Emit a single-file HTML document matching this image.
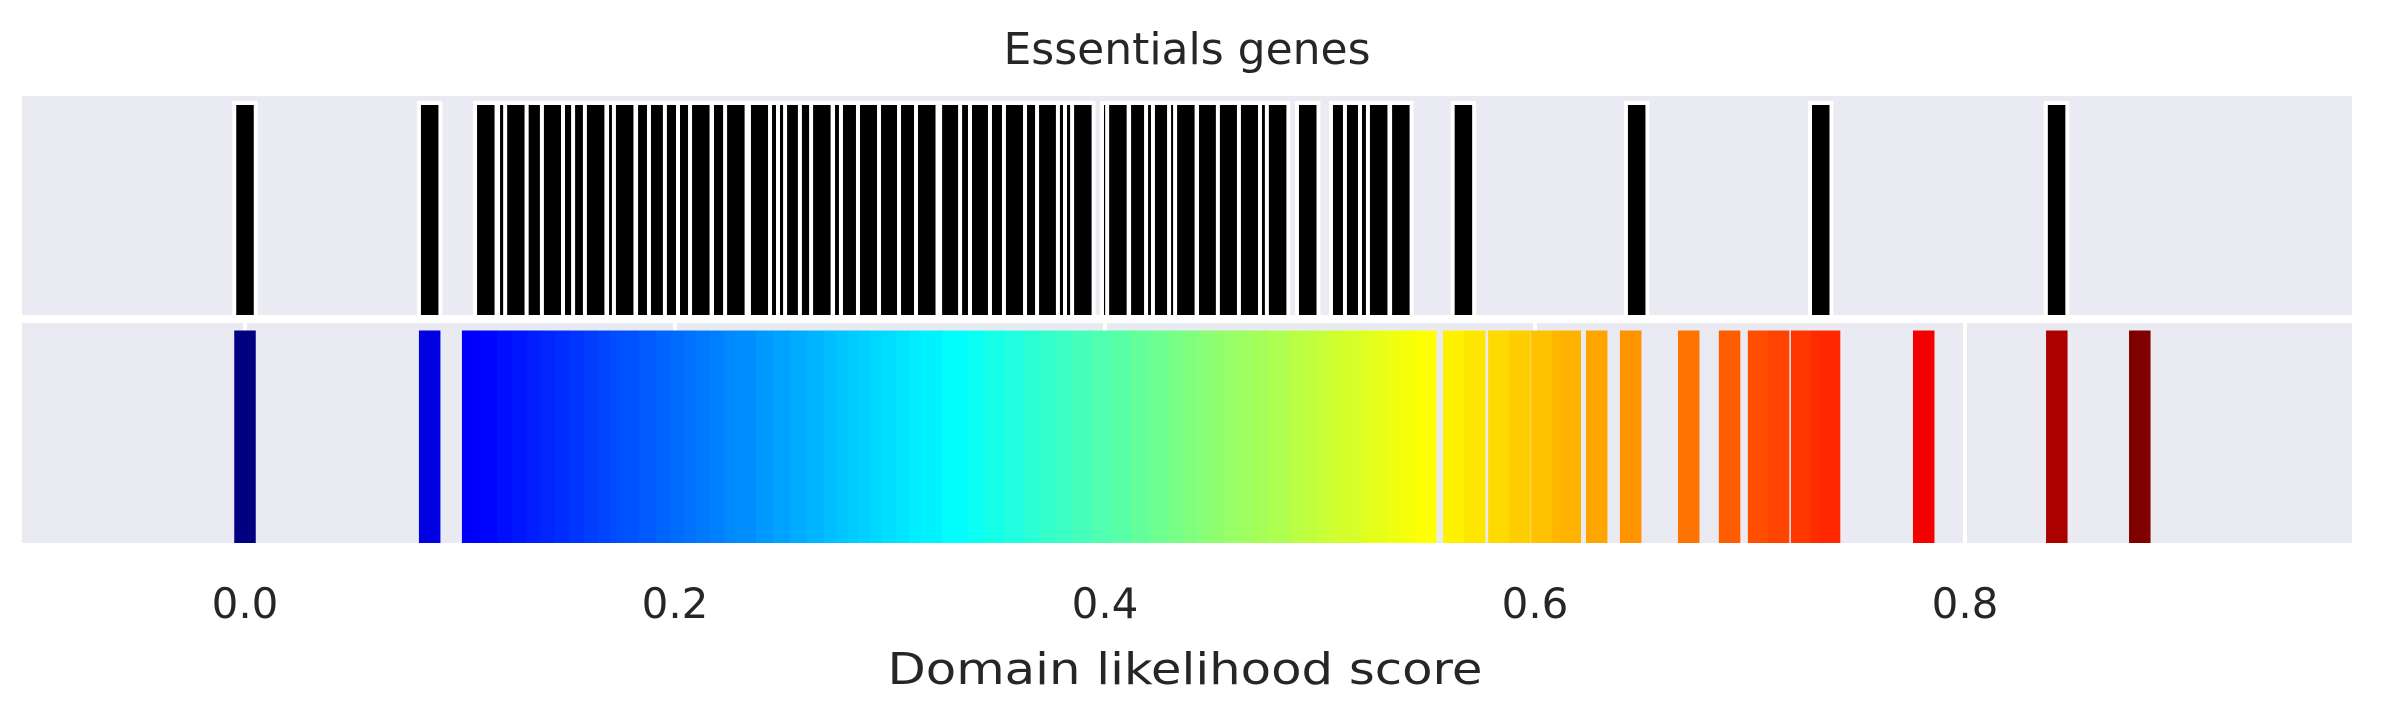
<!DOCTYPE html>
<html><head><meta charset="utf-8"><style>
html,body{margin:0;padding:0;background:#fff;}
svg{display:block;font-family:"DejaVu Sans","Liberation Sans",sans-serif;}
</style></head><body>
<svg id="chart" width="2385" height="725" viewBox="0 0 2385 725" xmlns="http://www.w3.org/2000/svg">
<defs>
<clipPath id="clipTop"><rect x="22" y="96" width="2330" height="219"/></clipPath>
<clipPath id="clipBot"><rect x="22" y="323" width="2330" height="220"/></clipPath>
</defs>
<rect x="22" y="96" width="2330" height="219" fill="#eaeaf2"/>
<rect x="22" y="323" width="2330" height="220" fill="#eaeaf2"/>
<g id="gridBot" clip-path="url(#clipBot)"></g>
<g id="barsTop" clip-path="url(#clipTop)"></g>
<g id="barsBot" clip-path="url(#clipBot)"></g>
<g id="ticks"></g>
<text x="1187" y="64" text-anchor="middle" font-size="44" fill="#262626">Essentials genes</text>
<text x="1185" y="684" text-anchor="middle" font-size="44" fill="#262626" textLength="595" lengthAdjust="spacingAndGlyphs">Domain likelihood score</text>
</svg>
<script>
const topValues = [0.0, 0.0859, 0.1120, 0.1227, 0.1260, 0.1360, 0.1431, 0.1529, 0.1576, 0.1631, 0.1734, 0.1766, 0.1869, 0.1929, 0.2003, 0.2064, 0.2120, 0.2222, 0.2283, 0.2394, 0.2492, 0.2529, 0.2562, 0.2631, 0.2683, 0.2785, 0.2822, 0.2901, 0.2999, 0.3092, 0.3171, 0.3283, 0.3376, 0.3422, 0.3515, 0.3580, 0.3678, 0.3734, 0.3831, 0.3864, 0.3897, 0.4036, 0.4060, 0.4162, 0.4241, 0.4273, 0.4348, 0.4376, 0.4478, 0.4575, 0.4673, 0.4771, 0.4803, 0.4943, 0.5101, 0.5166, 0.5236, 0.5273, 0.5376, 0.5667, 0.6473, 0.7329, 0.8426];
const bottomValues = [0.0, 0.0859, 0.1059, 0.1140, 0.1222, 0.1292, 0.1362, 0.1422, 0.1492, 0.1560, 0.1627, 0.1690, 0.1748, 0.1776, 0.1804, 0.1880, 0.1962, 0.2032, 0.2090, 0.2148, 0.2210, 0.2278, 0.2329, 0.2427, 0.2505, 0.2585, 0.2665, 0.2743, 0.2800, 0.2855, 0.2901, 0.2955, 0.3008, 0.3075, 0.3139, 0.3194, 0.3292, 0.3324, 0.3410, 0.3492, 0.3580, 0.3678, 0.3750, 0.3822, 0.3900, 0.3994, 0.4078, 0.4170, 0.4259, 0.4348, 0.4415, 0.4483, 0.4543, 0.4600, 0.4659, 0.4735, 0.4813, 0.4910, 0.4975, 0.5040, 0.5090, 0.5143, 0.5231, 0.5287, 0.5357, 0.5427, 0.5492, 0.5622, 0.5720, 0.5832, 0.5930, 0.6032, 0.6129, 0.6164, 0.6287, 0.6445, 0.6715, 0.6905, 0.7040, 0.7133, 0.7240, 0.7333, 0.7370, 0.7808, 0.8427, 0.8813];
const tickValues = [0.0, 0.2, 0.4, 0.6, 0.8];
const tickLabels = ["0.0", "0.2", "0.4", "0.6", "0.8"];

const NS = "http://www.w3.org/2000/svg";
const X0 = 245, PXU = 2150, BAR_W = 0.01;
function xs(v){ return X0 + v * PXU; }
function jet(t){
  t = Math.max(0, Math.min(1, t));
  function c(x){ return Math.max(0, Math.min(1, x)); }
  const r = c(Math.min(4*t - 1.5, -4*t + 4.5));
  const g = c(Math.min(4*t - 0.5, -4*t + 3.5));
  const b = c(Math.min(4*t + 0.5, -4*t + 2.5));
  return "rgb(" + Math.round(r*255) + "," + Math.round(g*255) + "," + Math.round(b*255) + ")";
}
const gridBot = document.getElementById("gridBot");
const barsTop = document.getElementById("barsTop");
const barsBot = document.getElementById("barsBot");
const ticks = document.getElementById("ticks");

tickValues.forEach(function(v, i){
  const l = document.createElementNS(NS, "line");
  l.setAttribute("x1", xs(v)); l.setAttribute("x2", xs(v));
  l.setAttribute("y1", 323); l.setAttribute("y2", 543);
  l.setAttribute("stroke", "#ffffff"); l.setAttribute("stroke-width", 4);
  
  
  gridBot.appendChild(l);
  const t = document.createElementNS(NS, "text");
  t.setAttribute("x", xs(v)); t.setAttribute("y", 618);
  t.setAttribute("text-anchor", "middle"); t.setAttribute("font-size", "42");
  t.setAttribute("fill", "#262626");
  t.textContent = tickLabels[i];
  
  
  ticks.appendChild(t);
});

topValues.forEach(function(v){
  const r = document.createElementNS(NS, "rect");
  const w = BAR_W * PXU;
  r.setAttribute("x", xs(v) - w/2); r.setAttribute("y", 103);
  r.setAttribute("width", w); r.setAttribute("height", 220);
  r.setAttribute("fill", "#000000"); r.setAttribute("stroke", "#ffffff");
  r.setAttribute("stroke-width", 4);
  
  
  barsTop.appendChild(r);
});

const vmin = Math.min.apply(null, bottomValues), vmax = Math.max.apply(null, bottomValues);
bottomValues.forEach(function(v){
  const r = document.createElementNS(NS, "rect");
  const w = BAR_W * PXU;
  r.setAttribute("x", xs(v) - w/2); r.setAttribute("y", 330.5);
  r.setAttribute("width", w); r.setAttribute("height", 215);
  r.setAttribute("fill", jet((v - vmin) / (vmax - vmin)));
  
  
  barsBot.appendChild(r);
});
</script>
</body></html>
